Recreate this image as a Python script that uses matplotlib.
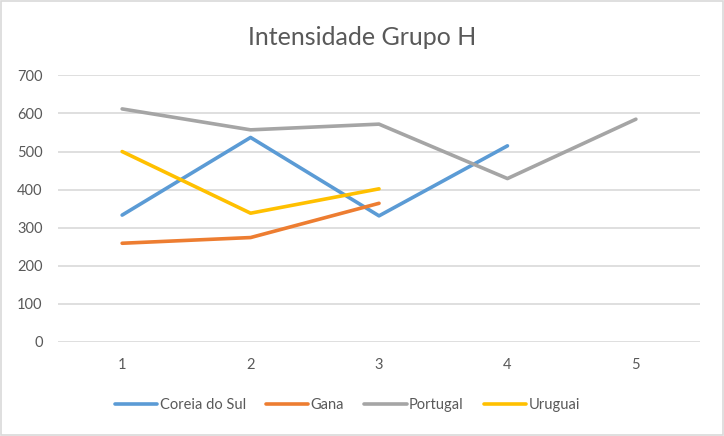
import matplotlib.pyplot as plt

plt.rcParams['font.family'] = ['Lato', 'DejaVu Sans']

# data
rounds = [1, 2, 3, 4, 5]
coreia = [333, 537, 331, 515]
gana = [259, 274, 364]
portugal = [612, 557, 572, 429, 585]
uruguai = [500, 338, 402]

series = [
    ('Coreia do Sul', coreia, '#5B9BD5'),
    ('Gana', gana, '#ED7D31'),
    ('Portugal', portugal, '#A5A5A5'),
    ('Uruguai', uruguai, '#FFC000'),
]

text_col = '#595959'
grid_col = '#D9D9D9'

fig = plt.figure(figsize=(7.24, 4.36), dpi=100)
ax = fig.add_axes([0.080, 0.216, 0.887, 0.611])

for name, vals, col in series:
    ax.plot(rounds[:len(vals)], vals, color=col, linewidth=2.6,
            solid_capstyle='round', solid_joinstyle='round', label=name)

ax.set_xlim(0.5, 5.5)
ax.set_ylim(0, 700)
ax.set_yticks(range(0, 701, 100))
ax.set_xticks(rounds)
ax.yaxis.grid(True, color=grid_col, linewidth=1.2)
ax.set_axisbelow(True)
for s in ax.spines.values():
    s.set_visible(False)
ax.tick_params(length=0, labelsize=10.5, colors=text_col)
ax.tick_params(axis='y', pad=11)
ax.tick_params(axis='x', pad=12)

fig.text(0.5, 0.915, 'Intensidade Grupo H', ha='center', va='center',
         fontsize=18, color=text_col)

fig.legend(loc='center', bbox_to_anchor=(0.48, 0.07), ncol=4, frameon=False,
           fontsize=10.5, handlelength=2.9, handletextpad=0.15,
           columnspacing=1.4, labelcolor=text_col)

# light frame around the chart area
fig.patches.append(plt.Rectangle((0.002, 0.003), 0.996, 0.994, transform=fig.transFigure,
                                 fill=False, edgecolor=grid_col, linewidth=1.2))

fig.savefig('out.png', dpi=100)
